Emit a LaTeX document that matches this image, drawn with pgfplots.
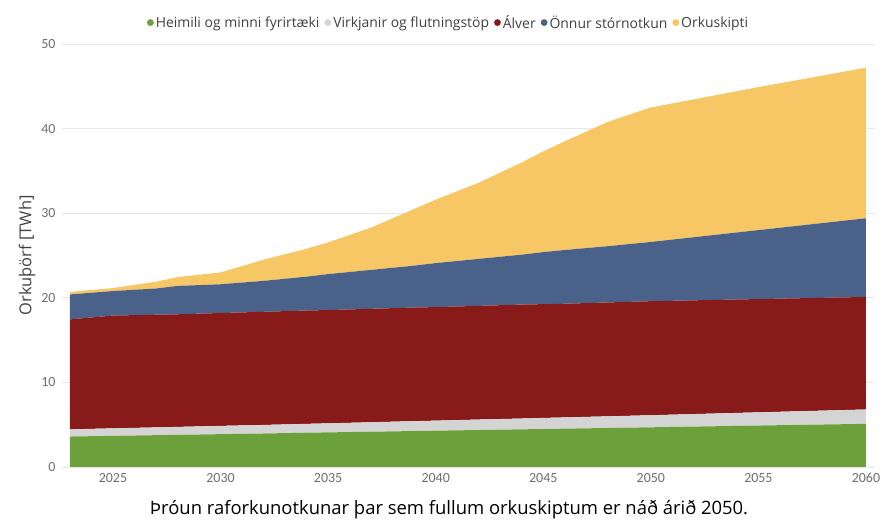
\documentclass[border=0pt]{standalone}
\usepackage{fontspec}
\setmainfont{Carlito}
\newfontfamily\osans{Open Sans}
\usepackage{pgfplots}
\pgfplotsset{compat=1.18}
\usepackage{pgfplotstable}
\definecolor{cgreen}{HTML}{6BA03B}
\definecolor{cgray}{HTML}{D4D4D4}
\definecolor{cred}{HTML}{881A19}
\definecolor{cblue}{HTML}{4A6289}
\definecolor{cyellow}{HTML}{F8C765}
\definecolor{ctick}{HTML}{6E6E6E}
\definecolor{ctext}{HTML}{404040}
\pgfplotstableread{
year green gray red blue yellow
2023 3.60 0.85 13.00 2.95 0.30
2025 3.68 0.89 13.33 2.90 0.35
2027 3.76 0.92 13.32 3.10 0.80
2028 3.80 0.94 13.31 3.35 1.05
2030 3.88 0.98 13.34 3.40 1.40
2032 3.96 1.01 13.38 3.65 2.50
2034 4.05 1.05 13.40 4.00 3.30
2035 4.09 1.07 13.39 4.25 3.75
2037 4.17 1.12 13.41 4.60 5.00
2039 4.25 1.17 13.43 4.95 6.70
2040 4.29 1.19 13.42 5.20 7.50
2042 4.37 1.24 13.44 5.55 9.00
2044 4.45 1.28 13.47 5.90 10.90
2045 4.49 1.31 13.45 6.15 11.90
2046 4.53 1.33 13.44 6.35 12.85
2048 4.61 1.38 13.46 6.65 14.70
2050 4.69 1.43 13.48 7.00 15.90
2055 4.90 1.56 13.39 8.15 16.90
2060 5.10 1.70 13.30 9.30 17.80
}\data
\begin{document}
\begin{tikzpicture}
\begin{axis}[
  scale only axis, width=813bp, height=423bp,
  xmin=2022.63, xmax=2060.42, ymin=0, ymax=50,
  stack plots=y,
  axis line style={draw=none},
  major tick length=0pt,
  xtick={2025,2030,...,2060},
  ytick={0,10,...,50},
  ymajorgrids, grid style={color=black!9, line width=0.8bp},
  /pgf/number format/assume math mode=true,
  xticklabel style={/pgf/number format/1000 sep={}, font=\fontsize{14}{15}\selectfont, color=ctick, yshift=-3bp},
  yticklabel style={font=\fontsize{14}{15}\selectfont, color=ctick, xshift=-3bp},
  ylabel={Orkuþörf [TWh]},
  ylabel style={at={(axis description cs:-0.0431,0.5)}, anchor=center, font=\osans\fontsize{16.5}{20}\selectfont, color=ctext},
  legend columns=-1,
  legend style={at={(0.4755,1)}, anchor=south, yshift=10bp, draw=none, fill=none,
    font=\osans\fontsize{14}{16}\selectfont, text=ctext,
    /tikz/every even column/.append style={column sep=3bp}},
  legend image code/.code={\fill[#1] (6bp,0bp) circle (3.4bp);},
]
\addplot[fill=cgreen, draw=none] table[x=year,y=green] {\data} \closedcycle;
\addlegendentry{Heimili og minni fyrirtæki}
\addplot[fill=cgray, draw=none] table[x=year,y=gray] {\data} \closedcycle;
\addlegendentry{Virkjanir og flutningstöp}
\addplot[fill=cred, draw=none] table[x=year,y=red] {\data} \closedcycle;
\addlegendentry{Álver}
\addplot[fill=cblue, draw=none] table[x=year,y=blue] {\data} \closedcycle;
\addlegendentry{Önnur stórnotkun}
\addplot[fill=cyellow, draw=none] table[x=year,y=yellow] {\data} \closedcycle;
\addlegendentry{Orkuskipti}
\end{axis}
\node[font=\osans\fontsize{18.5}{20}\selectfont, text=black] at (387bp,-43bp) {Þróun raforkunotkunar þar sem fullum orkuskiptum er náð árið 2050.};
\path[use as bounding box] (-62bp,-55bp) rectangle (823bp,467bp);
\end{tikzpicture}
\end{document}
